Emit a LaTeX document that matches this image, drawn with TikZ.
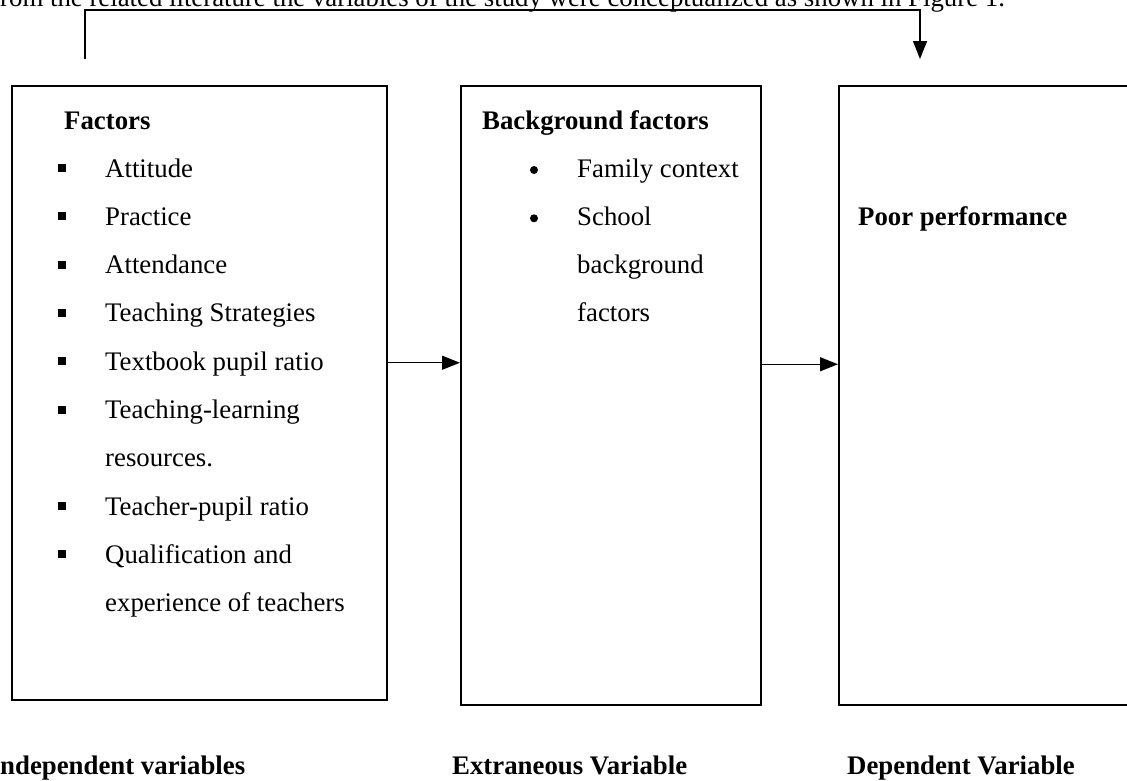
\documentclass[tikz,border=0pt]{standalone}
\usepackage{fontspec}
\setmainfont{Liberation Serif}
\usetikzlibrary{arrows.meta}

\begin{document}
\begin{tikzpicture}[x=1pt, y=-1pt,
	box/.style={ draw, line width=1.5pt, inner sep=0pt, anchor=north west },
	txt/.style={ anchor=base west, inner sep=0pt, font=\fontsize{26.8}{30}\selectfont },
	txtb/.style={ txt, font=\fontsize{26.8}{30}\selectfont\bfseries },
	sqbullet/.style={ fill, inner sep=0pt, minimum size=8pt },
	dotbullet/.style={ circle, fill, inner sep=0pt, minimum size=8pt },
	link/.style={ line width=1.2pt, -{Triangle[length=18pt,width=14pt]} }
]

\useasboundingbox (0,0) rectangle (1127,780);
\clip (0,0) rectangle (1127,780);

\node[txt] at (-14.9,6) (intro) {From the related literature the variables of the study were conceptualized as shown in Figure 1.};

% the three boxes
\node[box, minimum width=375pt, minimum height=614pt] at (11,85) (indep) {};
\node[box, minimum width=300pt, minimum height=619pt] at (460,85) (extra) {};
\node[box, minimum width=320pt, minimum height=619pt] at (838,85) (dep) {};

% independent variables
\node[txtb] at (64,129) (f0) {Factors};
\node[sqbullet] at (62,168) (s1) {};
\node[txt] at (105,177) (f1) {Attitude};
\node[sqbullet] at (62,216.3) (s2) {};
\node[txt] at (105,225.3) (f2) {Practice};
\node[sqbullet] at (62,264.6) (s3) {};
\node[txt] at (105,273.6) (f3) {Attendance};
\node[sqbullet] at (62,312.9) (s4) {};
\node[txt] at (105,321.9) (f4) {Teaching Strategies};
\node[sqbullet] at (62,361.2) (s5) {};
\node[txt] at (105,370.2) (f5) {Textbook pupil ratio};
\node[sqbullet] at (62,409.5) (s6) {};
\node[txt] at (105,418.5) (f6) {Teaching-learning};
\node[txt] at (105,466.8) (f7) {resources.};
\node[sqbullet] at (62,506.1) (s8) {};
\node[txt] at (105,515.1) (f8) {Teacher-pupil ratio};
\node[sqbullet] at (62,554.4) (s9) {};
\node[txt] at (105,563.4) (f9) {Qualification and};
\node[txt] at (105,611.7) (f10) {experience of teachers};

% extraneous variable
\node[txtb] at (482,129) (b0) {Background factors};
\node[dotbullet] at (534,170) (d1) {};
\node[txt] at (577,177) (b1) {Family context};
\node[dotbullet] at (534,218.3) (d2) {};
\node[txt] at (577,225.3) (b2) {School};
\node[txt] at (577,273.6) (b3) {background};
\node[txt] at (577,321.9) (b4) {factors};

% dependent variable
\node[txtb] at (858,225.3) (p0) {Poor performance};

% captions
\node[txtb] at (-10.4,774) (lindep) {Independent variables};
\node[txtb] at (452,774) (lextra) {Extraneous Variable};
\node[txtb] at (847,774) (ldep) {Dependent Variable};

% connectors
\draw[link] ([yshift=30pt]indep.east) -- ([yshift=30pt]indep.east -| extra.west);
\draw[link] ([yshift=31pt]extra.east) -- ([yshift=31pt]extra.east -| dep.west);

\coordinate (top1) at (85,59);
\coordinate (top2) at (920,59);
\draw[link, line width=1.4pt] (top1) -- ++(0,-49) -| (top2);

\end{tikzpicture}
\end{document}
